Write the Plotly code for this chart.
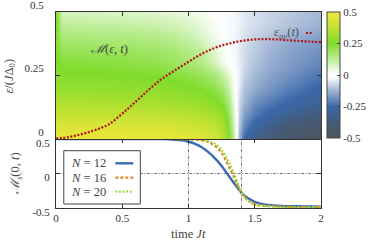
import plotly.graph_objects as go

# ---------------- data ----------------
# heat map M(eps, t): rows = eps, columns = t
t_grid = [0, 0.045, 0.25, 0.5, 0.75, 0.9, 1.0, 1.1, 1.2, 1.25, 1.3, 1.34, 1.38, 1.42, 1.5, 1.6, 1.75, 2.0]
eps_grid = [0.0, 0.05, 0.1, 0.15, 0.2, 0.25, 0.3, 0.35, 0.4, 0.45, 0.5]
M_eps_00 = [0.48, 0.48, 0.48, 0.48, 0.475, 0.47, 0.465, 0.45, 0.42, 0.38, 0.28, 0.10, -0.12, -0.25, -0.33, -0.38, -0.43, -0.47]
M_eps_05 = [0.44, 0.44, 0.44, 0.44, 0.435, 0.43, 0.42, 0.405, 0.38, 0.34, 0.25, 0.08, -0.10, -0.20, -0.27, -0.32, -0.38, -0.43]
M_eps_10 = [0.40, 0.39, 0.39, 0.385, 0.38, 0.37, 0.36, 0.345, 0.32, 0.29, 0.21, 0.06, -0.08, -0.16, -0.22, -0.26, -0.31, -0.37]
M_eps_15 = [0.35, 0.34, 0.335, 0.33, 0.32, 0.31, 0.30, 0.285, 0.26, 0.23, 0.16, 0.03, -0.07, -0.12, -0.18, -0.21, -0.25, -0.30]
M_eps_20 = [0.30, 0.29, 0.29, 0.285, 0.28, 0.27, 0.26, 0.24, 0.21, 0.17, 0.11, 0.02, -0.05, -0.10, -0.14, -0.17, -0.21, -0.26]
M_eps_25 = [0.27, 0.26, 0.26, 0.255, 0.245, 0.235, 0.22, 0.20, 0.16, 0.12, 0.07, 0.01, -0.04, -0.08, -0.12, -0.15, -0.18, -0.23]
M_eps_30 = [0.26, 0.235, 0.23, 0.225, 0.21, 0.19, 0.17, 0.14, 0.08, 0.04, 0.005, -0.02, -0.045, -0.07, -0.10, -0.13, -0.16, -0.20]
M_eps_35 = [0.25, 0.20, 0.195, 0.19, 0.18, 0.16, 0.14, 0.11, 0.06, 0.025, -0.005, -0.025, -0.045, -0.065, -0.09, -0.12, -0.15, -0.18]
M_eps_40 = [0.25, 0.16, 0.155, 0.15, 0.14, 0.12, 0.10, 0.07, 0.03, 0.005, -0.015, -0.03, -0.045, -0.06, -0.08, -0.10, -0.13, -0.16]
M_eps_45 = [0.25, 0.12, 0.115, 0.11, 0.10, 0.085, 0.07, 0.05, 0.015, 0.0, -0.015, -0.025, -0.035, -0.05, -0.065, -0.08, -0.10, -0.13]
M_eps_50 = [0.25, 0.08, 0.075, 0.07, 0.065, 0.05, 0.04, 0.025, 0.0, -0.01, -0.02, -0.03, -0.04, -0.05, -0.06, -0.075, -0.09, -0.12]
M_values = [M_eps_00, M_eps_05, M_eps_10, M_eps_15, M_eps_20, M_eps_25,
            M_eps_30, M_eps_35, M_eps_40, M_eps_45, M_eps_50]

# average energy eps_av(t)
t_av = [0, 0.1, 0.2, 0.3, 0.4, 0.5, 0.6, 0.7, 0.8, 0.9, 1.0, 1.1, 1.2, 1.3, 1.4, 1.5, 1.6, 1.7, 1.8, 1.9, 2.0]
eps_av = [0.002, 0.008, 0.02, 0.036, 0.058, 0.1, 0.146, 0.194, 0.237, 0.271, 0.304, 0.335, 0.359, 0.375, 0.386, 0.392, 0.393, 0.391, 0.387, 0.384, 0.381]

# M_s(0,t) for three system sizes
t_N12 = [0, 0.5, 0.8, 0.9, 0.95, 1.0, 1.05, 1.1, 1.15, 1.2, 1.25, 1.3, 1.35, 1.4, 1.45, 1.5, 1.55, 1.6, 1.7, 1.8, 2.0]
Ms_N12 = [0.5, 0.5, 0.498, 0.49, 0.48, 0.46, 0.43, 0.38, 0.31, 0.22, 0.11, -0.025, -0.155, -0.28, -0.36, -0.41, -0.44, -0.455, -0.47, -0.475, -0.48]
t_N16 = [0, 0.5, 0.9, 1.0, 1.1, 1.15, 1.2, 1.25, 1.3, 1.35, 1.4, 1.45, 1.5, 1.6, 1.8, 2.0]
Ms_N16 = [0.5, 0.5, 0.499, 0.495, 0.48, 0.455, 0.40, 0.30, 0.12, -0.08, -0.28, -0.39, -0.44, -0.47, -0.485, -0.488]
t_N20 = [0, 0.5, 0.9, 1.0, 1.1, 1.15, 1.2, 1.25, 1.3, 1.35, 1.4, 1.45, 1.5, 1.6, 1.8, 2.0]
Ms_N20 = [0.5, 0.5, 0.5, 0.498, 0.49, 0.47, 0.43, 0.34, 0.18, -0.03, -0.27, -0.40, -0.45, -0.475, -0.49, -0.49]

series_names = ["<i>N</i> = 12", "<i>N</i> = 16", "<i>N</i> = 20"]

# ticks
x_ticks = [0, 0.5, 1, 1.5, 2]
eps_ticks = [0, 0.25, 0.5]
eps_ticklabels = ["0", "0.25", "0.5"]
ms_ticks = [-0.5, 0, 0.5]
ms_ticklabels = ["-0.5", "0", "0.5"]
cb_ticks = [-0.5, -0.25, 0, 0.25, 0.5]
cb_ticklabels = ["-0.5", "-0.25", "0", "0.25", "0.5"]
ref_times = [1.0, 1.4]
ref_levels = [0.0]

# ---------------- styling ----------------
FONT = "Liberation Serif"
TXT = "#333333"
colorscale = [
    [0.0, "#4f5459"],
    [0.12, "#455a76"],
    [0.25, "#3a68aa"],
    [0.40, "#b2c3dc"],
    [0.47, "#f3f6fa"],
    [0.50, "#ffffff"],
    [0.54, "#eef9e4"],
    [0.62, "#bdee98"],
    [0.75, "#80dc2c"],
    [0.88, "#c0e232"],
    [1.0, "#f4e83c"],
]

W, H = 374, 241
PL, PR, PT, PB = 55.5, 321, 12, 208   # plot area in page pixels
ML, MR, MT, MB = PL, W - PR, PT, H - PB
PW = PR - PL
PH = PB - PT
split = (PB - 139) / PH  # boundary between the panels


def px(xp):
    return (xp - PL) / PW


def py(yp):
    return (PB - yp) / PH


fig = go.Figure()

fig.add_trace(go.Heatmap(
    x=t_grid, y=eps_grid, z=M_values, zmin=-0.5, zmax=0.5, zsmooth="best",
    colorscale=colorscale, xaxis="x2", yaxis="y2", showscale=True,
    colorbar=dict(x=px(327.3), xanchor="left", xpad=0, y=1, yanchor="top", ypad=0,
                  len=(137.7 - PT) / PH, lenmode="fraction", thickness=13,
                  outlinecolor="#444444", outlinewidth=1, ticklabeloverflow="allow",
                  tickvals=cb_ticks, ticktext=cb_ticklabels, ticks="inside", ticklen=3,
                  tickcolor="#444444", tickfont=dict(family=FONT, size=11, color=TXT)),
))

fig.add_trace(go.Scatter(x=t_av, y=eps_av, mode="lines", line=dict(color="#b01515", width=2.2, dash="2px,1.6px", shape="spline"),
                         xaxis="x2", yaxis="y2", showlegend=False))

styles = [dict(color="#3a6cb5", width=2.4, dash="solid"),
          dict(color="#df8a26", width=2.2, dash="3px,2px"),
          dict(color="#92dc3a", width=2.2, dash="1.8px,1.8px")]
for (tt, vv), st in zip([(t_N12, Ms_N12), (t_N16, Ms_N16), (t_N20, Ms_N20)], styles):
    fig.add_trace(go.Scatter(x=tt, y=vv, mode="lines", line=dict(shape="spline", **st),
                             xaxis="x", yaxis="y", showlegend=False))

axis_common = dict(showgrid=False, zeroline=False, showline=True, linecolor="#333333", linewidth=1,
                   ticks="inside", ticklen=4, tickcolor="#333333", automargin=False,
                   ticklabeloverflow="allow",
                   tickfont=dict(family=FONT, size=11, color=TXT))

fig.update_layout(
    template="none",
    width=W, height=H, margin=dict(l=ML, r=MR, t=MT, b=MB, autoexpand=False),
    paper_bgcolor="white", plot_bgcolor="white", showlegend=False,
    xaxis=dict(domain=[0, 1], range=[0, 2], anchor="y", tickvals=x_ticks, mirror="ticks", **axis_common),
    yaxis=dict(domain=[0, split], range=[-0.5, 0.5], anchor="x", tickvals=ms_ticks, ticktext=ms_ticklabels,
               mirror="ticks", ticklabelshift=4, ticklabelstandoff=3, **axis_common),
    xaxis2=dict(domain=[0, 1], range=[0, 2], anchor="y2", matches="x", side="top", tickvals=x_ticks,
                showticklabels=False, mirror=True, **axis_common),
    yaxis2=dict(domain=[split, 1], range=[0, 0.5], anchor="x2", tickvals=eps_ticks, ticktext=eps_ticklabels,
                mirror="ticks", ticklabelshift=-7, ticklabelstandoff=9, **axis_common),
)

shapes = []
for tr in ref_times:
    shapes.append(dict(type="line", xref="x", yref="y domain", x0=tr, x1=tr, y0=0, y1=1, layer="below",
                       line=dict(color="#555555", width=0.8, dash="3px,1.5px,1px,1.5px")))
for lv in ref_levels:
    shapes.append(dict(type="line", xref="x domain", yref="y", x0=0, x1=1, y0=lv, y1=lv, layer="below",
                       line=dict(color="#555555", width=0.8, dash="3px,1.5px,1px,1.5px")))
# legend box for the lower panel
shapes.append(dict(type="rect", xref="paper", yref="paper", x0=px(63.3), x1=px(140), y0=py(204), y1=py(150.7),
                   fillcolor="white", line=dict(color="#444444", width=1), layer="above"))
leg_rows = [163.3, 177.7, 191.7]
annotations = []
for name, st, yr in zip(series_names, styles, leg_rows):
    shapes.append(dict(type="line", xref="paper", yref="paper", x0=px(115), x1=px(133), y0=py(yr), y1=py(yr),
                       layer="above", line=st))
    annotations.append(dict(text=name, xref="paper", yref="paper", x=px(107.5), y=py(yr), xanchor="right",
                            yanchor="middle", showarrow=False, font=dict(family=FONT, size=12.5, color="#444444")))
# key for eps_av
shapes.append(dict(type="line", xref="paper", yref="paper", x0=px(306), x1=px(313), y0=py(33), y1=py(33),
                   layer="above", line=dict(color="#b01515", width=2.2, dash="2px,1.6px")))
annotations += [
    dict(text="<i>ε</i><sub><i>av</i></sub>(<i>t</i>)", xref="paper", yref="paper", x=px(301), y=py(33),
         xanchor="right", yanchor="middle", showarrow=False, font=dict(family=FONT, size=12.5, color="#555555")),
    dict(text="<i>ℳ</i>(<i>ε</i>, <i>t</i>)", xref="paper", yref="paper", x=px(109), y=py(49),
         xanchor="center", yanchor="middle", showarrow=False, font=dict(family=FONT, size=12.5, color="#444444")),
    dict(text="<i>ε</i>/(<i>J</i>Δ<sub>0</sub>)", xref="paper", yref="paper", x=px(9), y=py(76),
         xanchor="center", yanchor="middle", textangle=-90, showarrow=False,
         font=dict(family=FONT, size=12.5, color="#444444")),
    dict(text="<i>ℳ</i><sub><i>s</i></sub>(0, <i>t</i>)", xref="paper", yref="paper", x=px(15), y=py(173.5),
         xanchor="center", yanchor="middle", textangle=-90, showarrow=False,
         font=dict(family=FONT, size=12.5, color="#444444")),
    dict(text="time <i>Jt</i>", xref="paper", yref="paper", x=px(188), y=py(234),
         xanchor="center", yanchor="middle", showarrow=False, font=dict(family=FONT, size=12.5, color="#444444")),
]
fig.update_layout(shapes=shapes, annotations=annotations)

fig.write_html("out.html", config={"displayModeBar": False},
               post_script="document.body.style.margin='0';document.body.style.overflow='hidden';")
